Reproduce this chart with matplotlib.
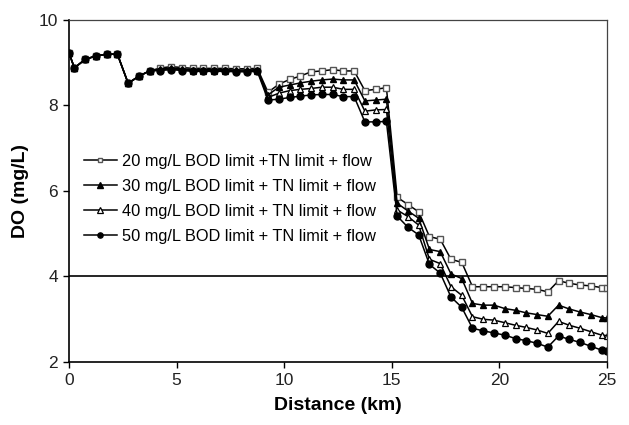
import numpy as np
import matplotlib
matplotlib.use("Agg")
import matplotlib.pyplot as plt

plt.rcParams['font.family'] = ['Liberation Sans', 'DejaVu Sans']

# distance along the river (km)
dist = [0, 0.25, 0.75, 1.25, 1.75, 2.25, 2.75, 3.25, 3.75, 4.25, 4.75, 5.25,
        5.75, 6.25, 6.75, 7.25, 7.75, 8.25, 8.75, 9.25, 9.75, 10.25, 10.75,
        11.25, 11.75, 12.25, 12.75, 13.25, 13.75, 14.25, 14.75, 15.25, 15.75,
        16.25, 16.75, 17.25, 17.75, 18.25, 18.75, 19.25, 19.75, 20.25, 20.75,
        21.25, 21.75, 22.25, 22.75, 23.25, 23.75, 24.25, 24.75, 25]

head = [9.22, 8.87, 9.07, 9.15, 9.19, 9.19, 8.51, 8.68, 8.80]

do20 = head + [8.87, 8.90, 8.88, 8.86, 8.86, 8.86, 8.86, 8.85, 8.85, 8.86,
               8.30, 8.49, 8.60, 8.68, 8.78, 8.80, 8.83, 8.80, 8.80,
               8.34, 8.37, 8.41, 5.85, 5.68, 5.51, 4.93, 4.87, 4.40, 4.33,
               3.76, 3.76, 3.76, 3.76, 3.74, 3.72, 3.70, 3.64,
               3.90, 3.84, 3.80, 3.78, 3.74, 3.73]
do30 = head + [8.85, 8.87, 8.85, 8.83, 8.83, 8.83, 8.83, 8.82, 8.82, 8.83,
               8.24, 8.42, 8.47, 8.52, 8.56, 8.59, 8.61, 8.59, 8.59,
               8.10, 8.12, 8.14, 5.71, 5.53, 5.36, 4.63, 4.58, 4.06, 3.95,
               3.37, 3.33, 3.33, 3.25, 3.21, 3.15, 3.11, 3.07,
               3.33, 3.24, 3.17, 3.11, 3.04, 3.03]
do40 = head + [8.83, 8.85, 8.83, 8.81, 8.81, 8.81, 8.81, 8.80, 8.80, 8.81,
               8.18, 8.28, 8.34, 8.37, 8.39, 8.42, 8.42, 8.37, 8.37,
               7.86, 7.89, 7.90, 5.55, 5.40, 5.20, 4.40, 4.30, 3.76, 3.56,
               3.06, 3.00, 2.98, 2.92, 2.86, 2.81, 2.75, 2.67,
               2.95, 2.86, 2.79, 2.71, 2.63, 2.62]
do50 = head + [8.81, 8.83, 8.81, 8.79, 8.79, 8.79, 8.79, 8.78, 8.78, 8.79,
               8.12, 8.14, 8.18, 8.21, 8.24, 8.25, 8.25, 8.20, 8.20,
               7.61, 7.61, 7.62, 5.41, 5.15, 4.97, 4.28, 4.08, 3.52, 3.28,
               2.79, 2.73, 2.68, 2.63, 2.55, 2.50, 2.44, 2.35,
               2.61, 2.53, 2.46, 2.37, 2.28, 2.27]

labels = ["20 mg/L BOD limit +TN limit + flow",
          "30 mg/L BOD limit + TN limit + flow",
          "40 mg/L BOD limit + TN limit + flow",
          "50 mg/L BOD limit + TN limit + flow"]

fig = plt.figure(figsize=(6.29, 4.25), dpi=100)
ax = fig.add_axes([0.1097, 0.148, 0.8553, 0.806])

ax.plot(dist, do20, color='black', lw=1.1, marker='s', ms=4.5, mfc='white',
        mec='#555555', mew=1, label=labels[0])
ax.plot(dist, do30, color='black', lw=1.1, marker='^', ms=5, mfc='black',
        mec='black', label=labels[1])
ax.plot(dist, do40, color='black', lw=1.1, marker='^', ms=5, mfc='white',
        mec='black', mew=0.9, label=labels[2])
ax.plot(dist, do50, color='black', lw=1.1, marker='o', ms=5, mfc='black',
        mec='black', label=labels[3])

ax.axhline(4, color='black', lw=1.2)

ax.set_xlim(0, 25)
ax.set_ylim(2, 10)
ax.set_xticks([0, 5, 10, 15, 20, 25])
ax.set_yticks([2, 4, 6, 8, 10])
ax.tick_params(direction='out', length=4, width=1, labelsize=12.5, pad=4,
               labelcolor='#222222')

for s in ['left', 'bottom']:
    ax.spines[s].set_linewidth(1.2)
for s in ['top', 'right']:
    ax.spines[s].set_linewidth(0.9)
    ax.spines[s].set_color('#444444')

ax.set_xlabel("Distance (km)", fontsize=14, fontweight='bold', labelpad=6)
ax.set_ylabel("DO (mg/L)", fontsize=14, fontweight='bold', labelpad=7)

leg = ax.legend(loc='upper left', bbox_to_anchor=(0.0, 0.65), frameon=False,
                fontsize=11.8, handlelength=2.0, markerscale=0.75,
                labelspacing=0.6, handletextpad=0.35, borderaxespad=0.5)

fig.savefig("out.png", dpi=100)
